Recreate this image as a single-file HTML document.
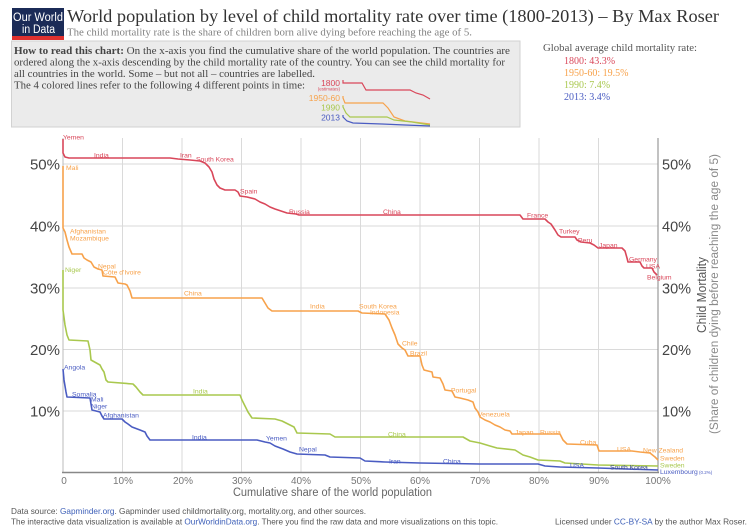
<!DOCTYPE html>
<html><head><meta charset="utf-8"><style>
html,body{margin:0;padding:0;background:#fff;}
svg{display:block;}
.s{font-family:"Liberation Sans",sans-serif;}
.f{font-family:"Liberation Serif",serif;}
.lab{font-family:"Liberation Sans",sans-serif;font-size:6.8px;}
</style></head><body>
<svg width="750" height="532" viewBox="0 0 750 532" xmlns="http://www.w3.org/2000/svg">
<rect width="750" height="532" fill="#fff"/>
<!-- logo -->
<rect x="12" y="8" width="52" height="29" fill="#1b2b57"/>
<rect x="12" y="36" width="52" height="4" fill="#e0312f"/>
<text class="s" x="13" y="21" font-size="11.5" fill="#fff" textLength="50" lengthAdjust="spacingAndGlyphs">Our World</text>
<text class="s" x="22" y="33" font-size="11.5" fill="#fff" textLength="33" lengthAdjust="spacingAndGlyphs">in Data</text>
<!-- title -->
<text class="f" x="67" y="22" font-size="18" fill="#333" textLength="652" lengthAdjust="spacingAndGlyphs">World population by level of child mortality rate over time (1800-2013) – By Max Roser</text>
<text class="f" x="67" y="35.5" font-size="10.5" fill="#808080" textLength="405" lengthAdjust="spacingAndGlyphs">The child mortality rate is the share of children born alive dying before reaching the age of 5.</text>
<!-- box -->
<rect x="11.5" y="41" width="508.5" height="86" fill="#ebebeb" stroke="#d2d2d2" stroke-width="1"/>
<text class="f" x="14" y="54" font-size="10.3" fill="#444" textLength="496" lengthAdjust="spacingAndGlyphs"><tspan font-weight="bold">How to read this chart:</tspan> On the x-axis you find the cumulative share of the world population. The countries are</text>
<text class="f" x="14" y="65.5" font-size="10.3" fill="#444" textLength="491" lengthAdjust="spacingAndGlyphs">ordered along the x-axis descending by the child mortality rate of the country. You can see the child mortality for</text>
<text class="f" x="14" y="77" font-size="10.3" fill="#444" textLength="301" lengthAdjust="spacingAndGlyphs">all countries in the world. Some – but not all – countries are labelled.</text>
<text class="f" x="14" y="88.5" font-size="10.3" fill="#444" textLength="291" lengthAdjust="spacingAndGlyphs">The 4 colored lines refer to the following 4 different points in time:</text>
<!-- mini legend -->
<text class="s" x="340" y="86" font-size="8.5" fill="#d9475a" text-anchor="end">1800</text>
<text class="s" x="340" y="90.5" font-size="4.5" fill="#d9475a" text-anchor="end">(estimates)</text>
<text class="s" x="340" y="101" font-size="8.5" fill="#f7a24b" text-anchor="end">1950-60</text>
<text class="s" x="340" y="110.5" font-size="8.5" fill="#a9c84e" text-anchor="end">1990</text>
<text class="s" x="340" y="120.5" font-size="8.5" fill="#4a5cc2" text-anchor="end">2013</text>
<g fill="none" stroke-width="1.2">
<polyline stroke="#d9475a" points="343,80 343,83 362,83 366,90 410,90 416,93 423,95 430,99"/>
<polyline stroke="#f7a24b" points="343,96 343,98 345,103 383,103 388,108 394,117 405,121 430,124"/>
<polyline stroke="#a9c84e" points="343,105 343,107 346,113 350,117 387,117 394,120 412,122 430,125"/>
<polyline stroke="#4a5cc2" points="343,115 343,117 347,121 353,123 382,124 405,125 430,126"/>
</g>
<!-- right legend -->
<text class="f" x="543" y="51" font-size="10" fill="#555" textLength="154" lengthAdjust="spacingAndGlyphs">Global average child mortality rate:</text>
<text class="f" x="564" y="64" font-size="10" fill="#d9475a">1800: 43.3%</text>
<text class="f" x="564" y="76" font-size="10" fill="#f7a24b">1950-60: 19.5%</text>
<text class="f" x="564" y="88" font-size="10" fill="#a9c84e">1990: 7.4%</text>
<text class="f" x="564" y="100" font-size="10" fill="#4a5cc2">2013: 3.4%</text>
<!-- grid -->
<g stroke="#dadada" stroke-width="1">
<line x1="122.5" y1="138" x2="122.5" y2="472"/>
<line x1="182" y1="138" x2="182" y2="472"/>
<line x1="241.5" y1="138" x2="241.5" y2="472"/>
<line x1="301" y1="138" x2="301" y2="472"/>
<line x1="360.5" y1="138" x2="360.5" y2="472"/>
<line x1="420" y1="138" x2="420" y2="472"/>
<line x1="479.5" y1="138" x2="479.5" y2="472"/>
<line x1="539" y1="138" x2="539" y2="472"/>
<line x1="598.5" y1="138" x2="598.5" y2="472"/>
<line x1="63" y1="164" x2="658" y2="164"/>
<line x1="63" y1="226" x2="658" y2="226"/>
<line x1="63" y1="288" x2="658" y2="288"/>
<line x1="63" y1="349.5" x2="658" y2="349.5"/>
<line x1="63" y1="411" x2="658" y2="411"/>
</g>
<line x1="63" y1="138" x2="63" y2="473" stroke="#bbb" stroke-width="1"/>
<line x1="658" y1="138" x2="658" y2="473" stroke="#999" stroke-width="1.2"/>
<line x1="62" y1="472.5" x2="659" y2="472.5" stroke="#888" stroke-width="1.6"/>
<!-- axis labels left -->
<g class="s" font-size="15" fill="#444" text-anchor="end">
<text x="60" y="169.5">50%</text>
<text x="60" y="231.5">40%</text>
<text x="60" y="293.5">30%</text>
<text x="60" y="355">20%</text>
<text x="60" y="416.5">10%</text>
</g>
<g class="s" font-size="14.5" fill="#444">
<text x="662" y="169.5">50%</text>
<text x="662" y="231.5">40%</text>
<text x="662" y="293.5">30%</text>
<text x="662" y="355">20%</text>
<text x="662" y="416.5">10%</text>
</g>
<text class="s" transform="translate(706,295) rotate(-90)" font-size="12.5" fill="#555" text-anchor="middle" textLength="76" lengthAdjust="spacingAndGlyphs">Child Mortality</text>
<text class="s" transform="translate(718,294) rotate(-90)" font-size="11.5" fill="#8a8a8a" text-anchor="middle" textLength="280" lengthAdjust="spacingAndGlyphs">(Share of children dying before reaching the age of 5)</text>
<!-- x ticks -->
<g class="s" font-size="10" fill="#777" text-anchor="middle">
<text x="64" y="484">0</text>
<text x="123" y="484">10%</text>
<text x="183" y="484">20%</text>
<text x="242" y="484">30%</text>
<text x="301" y="484">40%</text>
<text x="361" y="484">50%</text>
<text x="420" y="484">60%</text>
<text x="480" y="484">70%</text>
<text x="539" y="484">80%</text>
<text x="599" y="484">90%</text>
<text x="658" y="484">100%</text>
</g>
<text class="s" x="233" y="496" font-size="11.5" fill="#666" textLength="199" lengthAdjust="spacingAndGlyphs">Cumulative share of the world population</text>
<!-- series -->
<g fill="none" stroke-width="1.6" stroke-linejoin="round">
<polyline stroke="#d9475a" points="63,139 63,153 65,157 69,158 170,158 178,159 190,160 200,161 205,163 209,167 212,172 214,179 217,185 220,188 225,190 235,190 238,192 240,196 247,197 255,199 260,202 265,204 270,207 275,209 281,211 287,213 296,214 299,215 520,215 523,219 545,219 548,222 551,224 553,227 555,230 558,235 561,237 575,237 577,240 581,242 590,243 594,245 598,248 622,248 625,251 627,258 628,262 640,262 642,266 644,268 652,268 654,272 657,275"/>
<polyline stroke="#f7a24b" points="63,166 63,228 65,232 67,240 69,247 72,254 82,254 84,258 87,260 91,262 94,267 98,269 102,270 103,276 115,277 118,283 125,284 127,285 130,291 132,298 262,298 265,303 268,308 272,311 358,311 362,313 385,314 389,320 392,328 395,335 398,344 402,348 405,350 408,356 420,356 422,365 424,370 432,372 433,377 440,378 443,384 445,390 452,391 455,397 460,398 468,400 473,402 475,408 478,412 480,417 485,420 490,422 495,425 500,427 505,430 510,431 512,434 560,434 563,440 567,444 597,445 599,451 632,451 640,452 650,453 655,457 658,460"/>
<polyline stroke="#a9c84e" points="63,270 63,310 65,325 67,335 69,340 88,341 90,350 91,360 100,365 102,369 104,372 106,380 108,382 133,384 136,387 140,392 143,395 240,395 242,400 245,406 248,412 252,418 275,419 282,421 288,424 294,427 297,433 330,434 335,437 463,437 470,441 480,443 490,446 497,448 515,450 523,455 530,457 538,460 560,461 565,463 598,465 658,466"/>
<polyline stroke="#4a5cc2" points="63,369 64,380 66,392 67,397 90,398 91,404 92,410 100,412 102,416 104,419 122,419 125,422 128,424 132,427 140,430 145,432 147,436 150,440 257,440 265,442 270,443 275,446 283,449 290,452 297,454 325,455 330,457 360,458 365,461 385,462 420,463 480,464 538,464 545,466 560,467 598,468 658,470"/>
</g>
<!-- labels red -->
<g class="lab" fill="#d9475a">
<text x="63" y="139.5">Yemen</text>
<text x="94" y="157.5">India</text>
<text x="180" y="157.5">Iran</text>
<text x="196" y="161.5">South Korea</text>
<text x="240" y="193.5">Spain</text>
<text x="289" y="214">Russia</text>
<text x="383" y="214">China</text>
<text x="527" y="217.5">France</text>
<text x="559" y="233.5">Turkey</text>
<text x="578" y="242.5">Peru</text>
<text x="599" y="247.5">Japan</text>
<text x="629" y="261.5">Germany</text>
<text x="646" y="268.5">USA</text>
<text x="647" y="279.5">Belgium</text>
</g>
<g class="lab" fill="#f7a24b">
<text x="66" y="170">Mali</text>
<text x="70" y="233.5">Afghanistan</text>
<text x="70" y="240.5">Mozambique</text>
<text x="98" y="268.5">Nepal</text>
<text x="103" y="274.5">Côte d'Ivoire</text>
<text x="184" y="295.5">China</text>
<text x="310" y="308.5">India</text>
<text x="359" y="308.5">South Korea</text>
<text x="370" y="314.5">Indonesia</text>
<text x="402" y="345.5">Chile</text>
<text x="410" y="355.5">Brazil</text>
<text x="451" y="392.5">Portugal</text>
<text x="478" y="416.5">Venezuela</text>
<text x="515" y="434.5">Japan</text>
<text x="540" y="434.5">Russia</text>
<text x="580" y="444.5">Cuba</text>
<text x="617" y="451.5">USA</text>
<text x="643" y="452.5">New Zealand</text>
<text x="660" y="460.5">Sweden</text>
</g>
<g class="lab" fill="#a9c84e">
<text x="65" y="272">Niger</text>
<text x="193" y="393.5">India</text>
<text x="388" y="436.5">China</text>
<text x="660" y="467.5">Sweden</text>
</g>
<g class="lab" fill="#4a5cc2">
<text x="64" y="369.5">Angola</text>
<text x="72" y="396.5">Somalia</text>
<text x="91" y="401.5">Mali</text>
<text x="91" y="408.5">Niger</text>
<text x="103" y="417.5">Afghanistan</text>
<text x="192" y="439.5">India</text>
<text x="266" y="440.5">Yemen</text>
<text x="299" y="451.5">Nepal</text>
<text x="389" y="463.5">Iran</text>
<text x="443" y="463.5">China</text>
<text x="570" y="467.5">USA</text>
<text x="610" y="469.5" fill="#3b4a8a">South Korea</text>
<text x="660" y="474">Luxembourg<tspan font-size="4.5"> (0.2%)</tspan></text>
</g>
<!-- footer -->
<text class="s" x="11" y="514" font-size="8.2" fill="#555" textLength="355" lengthAdjust="spacingAndGlyphs">Data source: <tspan fill="#3d5fb8">Gapminder.org</tspan>. Gapminder used childmortality.org, mortality.org, and other sources.</text>
<text class="s" x="11" y="524.5" font-size="8.2" fill="#555" textLength="487" lengthAdjust="spacingAndGlyphs">The interactive data visualization is available at <tspan fill="#3d5fb8">OurWorldinData.org</tspan>. There you find the raw data and more visualizations on this topic.</text>
<text class="s" x="555" y="524.5" font-size="8.2" fill="#555" textLength="192" lengthAdjust="spacingAndGlyphs">Licensed under <tspan fill="#3d5fb8">CC-BY-SA</tspan> by the author Max Roser.</text>
</svg>
</body></html>
